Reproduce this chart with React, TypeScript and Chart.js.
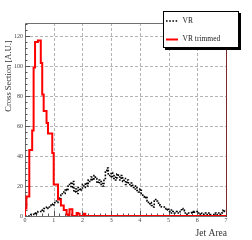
import { useEffect, useRef } from "react";
import { Chart, registerables } from "chart.js";

Chart.register(...registerables);

// ---- data ----
const X_MIN = 0;
const X_MAX = 7;
const BIN_WIDTH = 0.05;
const Y_MAX = 128.7;
const xTickValues = [0, 1, 2, 3, 4, 5, 6, 7];
const yTickValues = [0, 20, 40, 60, 80, 100, 120];
const seriesNames = ["VR", "VR trimmed"];
const xTitle = "Jet Area";
const yTitle = "Cross Section [A.U.]";

// bin contents, 140 bins of 0.05 from 0 to 7
const vrValues = [
  0, 0, 0, 0,
  1, 1, 2, 1, 2, 3, 3, 4, 3, 5,
  5, 6, 5, 7, 8, 7, 9, 10, 9, 12,
  11, 14, 16, 15, 18, 17, 20, 22, 19, 23,
  16, 18, 15, 19, 17, 18, 21, 19, 22, 20,
  24, 23, 26, 24, 27, 25, 22, 24, 21, 23,
  20, 25, 30, 32, 28, 26, 29, 25, 27, 24,
  28, 26, 24, 27, 23, 25, 21, 24, 22, 20,
  22, 19, 18, 20, 17, 16, 18, 15, 13, 12,
  13, 10, 8, 9, 7, 6, 10, 11, 10, 8,
  7, 6, 6, 5, 4, 5, 3, 4, 2, 3,
  2, 3, 2, 2, 3, 5, 4, 2, 2, 1,
  2, 2, 3, 2, 3, 3, 2, 1, 2, 1,
  1, 2, 1, 1, 2, 1, 1, 1, 2, 1,
  1, 2, 1, 2, 4, 3,
];

const vrTrimmedValues = [
  5, 13, 13, 44, 44, 57, 99, 116, 116, 117,
  117, 102, 81, 70, 70, 62, 55, 55, 55, 42,
  21, 21, 21, 11, 11, 7, 7, 4, 4, 1,
  0, 4.5, 4.5, 0, 0, 0, 2, 1.5, 0, 0,
  0, 1.5, 0, 0, 0, 0, 0, 0, 0, 0,
  0, 0, 0, 0, 0, 0, 0, 0, 0, 0,
  0, 0, 0, 0, 0, 0, 0, 0, 0, 0,
  0, 0, 0, 0, 0, 0, 0, 0, 0, 0,
  0, 0, 0, 0, 0, 0, 0, 0, 0, 0,
  0, 0, 0, 0, 0, 0, 0, 0, 0, 0,
  0, 0, 0, 0, 0, 0, 0, 0, 0, 0,
  0, 0, 0, 0, 0, 0, 0, 0, 0, 0,
  0, 0, 0, 0, 0, 0, 0, 0, 0, 0,
  0, 0, 0, 0, 0, 0, 0, 0, 0, 0,
];

const FONT = "'Liberation Serif', 'DejaVu Serif', serif";

function toSteps(values: number[]) {
  const pts: { x: number; y: number }[] = [{ x: X_MIN, y: 0 }];
  values.forEach((v, i) => pts.push({ x: X_MIN + i * BIN_WIDTH, y: v }));
  pts.push({ x: X_MIN + values.length * BIN_WIDTH, y: values[values.length - 1] });
  return pts;
}

const rootStyle = {
  id: "rootStyle",
  beforeDatasetsDraw(chart: any) {
    const { ctx, chartArea, scales } = chart;
    const { left, right, top, bottom } = chartArea;
    const x = scales.x;
    const y = scales.y;
    ctx.save();
    // grid
    ctx.strokeStyle = "#b4b4b4";
    ctx.lineWidth = 1;
    ctx.setLineDash([3, 2]);
    xTickValues.forEach((v) => {
      if (v === X_MIN || v === X_MAX) return;
      const px = Math.round(x.getPixelForValue(v)) + 0.5;
      ctx.beginPath();
      ctx.moveTo(px, top);
      ctx.lineTo(px, bottom);
      ctx.stroke();
    });
    yTickValues.forEach((v) => {
      if (v === 0) return;
      const py = Math.round(y.getPixelForValue(v)) + 0.5;
      ctx.beginPath();
      ctx.moveTo(left, py);
      ctx.lineTo(right, py);
      ctx.stroke();
    });
    ctx.setLineDash([]);
    // frame
    ctx.strokeStyle = "#707070";
    ctx.beginPath();
    ctx.moveTo(left + 0.5, bottom + 0.5);
    ctx.lineTo(left + 0.5, top + 0.5);
    ctx.lineTo(right + 0.5, top + 0.5);
    ctx.moveTo(left, bottom + 0.5);
    ctx.lineTo(right, bottom + 0.5);
    ctx.stroke();
    // ticks
    ctx.strokeStyle = "#555";
    ctx.beginPath();
    for (let v = 0; v <= Y_MAX + 1e-6; v += 4) {
      const py = Math.round(y.getPixelForValue(v)) + 0.5;
      const len = v % 20 === 0 ? 5 : 2.5;
      ctx.moveTo(left, py);
      ctx.lineTo(left + len, py);
    }
    for (let i = 0; i <= 35; i++) {
      const v = i * 0.2;
      const px = Math.round(x.getPixelForValue(v)) + 0.5;
      const len = i % 5 === 0 ? 5 : 2.5;
      ctx.moveTo(px, bottom);
      ctx.lineTo(px, bottom - len);
    }
    ctx.stroke();
    ctx.restore();
  },
  afterDatasetsDraw(chart: any) {
    const { ctx, chartArea } = chart;
    const { right, top, bottom } = chartArea;
    ctx.save();
    // right edge
    ctx.strokeStyle = "#7d2a2a";
    ctx.lineWidth = 1;
    ctx.beginPath();
    ctx.moveTo(right + 0.5, top);
    ctx.lineTo(right + 0.5, bottom + 1);
    ctx.stroke();

    // legend
    const lx = 163, ly = 11, lw = 76, lh = 37;
    ctx.fillStyle = "#000";
    ctx.fillRect(lx + 2, ly + 2, lw, lh);
    ctx.fillStyle = "#fff";
    ctx.fillRect(lx, ly, lw, lh);
    ctx.strokeStyle = "#000";
    ctx.strokeRect(lx + 0.5, ly + 0.5, lw - 1, lh - 1);
    const ds = chart.data.datasets;
    const rows = [21, 39.5];
    seriesNames.forEach((name, i) => {
      const d = ds[i];
      ctx.strokeStyle = d.borderColor;
      ctx.lineWidth = i === 0 ? 1.5 : 2;
      ctx.setLineDash(d.borderDash || []);
      ctx.beginPath();
      ctx.moveTo(166, rows[i]);
      ctx.lineTo(178, rows[i]);
      ctx.stroke();
      ctx.setLineDash([]);
      ctx.fillStyle = "#222";
      ctx.font = `7.5px ${FONT}`;
      ctx.textAlign = "left";
      ctx.textBaseline = "middle";
      ctx.fillText(name, 182.5, rows[i]);
    });

    // axis titles
    ctx.fillStyle = "#333";
    ctx.font = `9.5px ${FONT}`;
    ctx.textAlign = "right";
    ctx.textBaseline = "middle";
    ctx.fillText(xTitle, 227, 233);
    ctx.save();
    ctx.translate(9, 76);
    ctx.rotate(-Math.PI / 2);
    ctx.textAlign = "center";
    ctx.font = `8.5px ${FONT}`;
    ctx.fillText(yTitle, 0, 0);
    ctx.restore();
    ctx.restore();
  },
};

export default function App() {
  const ref = useRef<HTMLCanvasElement | null>(null);
  useEffect(() => {
    if (!ref.current) return;
    const chart = new Chart(ref.current, {
      type: "line",
      data: {
        datasets: [
          {
            label: seriesNames[0],
            data: toSteps(vrValues),
            borderColor: "#000000",
            borderWidth: 1.6,
            borderDash: [1.6, 1.6],
            stepped: true,
            pointRadius: 0,
            fill: false,
            order: 2,
          },
          {
            label: seriesNames[1],
            data: toSteps(vrTrimmedValues),
            borderColor: "#ff0000",
            borderWidth: 2,
            stepped: true,
            pointRadius: 0,
            fill: false,
            order: 1,
          },
        ],
      },
      options: {
        responsive: false,
        animation: false,
        events: [],
        layout: { padding: { top: 23, right: 26, left: 0, bottom: 0 } },
        plugins: { legend: { display: false }, tooltip: { enabled: false } },
        scales: {
          x: {
            type: "linear",
            min: X_MIN,
            max: X_MAX,
            afterFit: (s: any) => {
              s.height = 24;
            },
            afterBuildTicks: (s: any) => {
              s.ticks = xTickValues.map((v) => ({ value: v }));
            },
            ticks: {
              font: { family: FONT, size: 6 },
              color: "#444",
              padding: 1,
              maxRotation: 0,
              autoSkip: false,
            },
            grid: { display: false, drawTicks: false },
            border: { display: false },
          },
          y: {
            type: "linear",
            min: 0,
            max: Y_MAX,
            afterFit: (s: any) => {
              s.width = 25;
            },
            afterBuildTicks: (s: any) => {
              s.ticks = yTickValues.map((v) => ({ value: v }));
            },
            ticks: {
              font: { family: FONT, size: 6 },
              color: "#444",
              padding: 2,
              autoSkip: false,
            },
            grid: { display: false, drawTicks: false },
            border: { display: false },
          },
        },
      },
      plugins: [rootStyle],
    } as any);
    return () => chart.destroy();
  }, []);
  return (
    <div style={{ position: "fixed", left: 0, top: 0, width: 252, height: 240, background: "#fff" }}>
      <canvas ref={ref} width={252} height={240} style={{ display: "block", width: 252, height: 240 }} />
    </div>
  );
}
